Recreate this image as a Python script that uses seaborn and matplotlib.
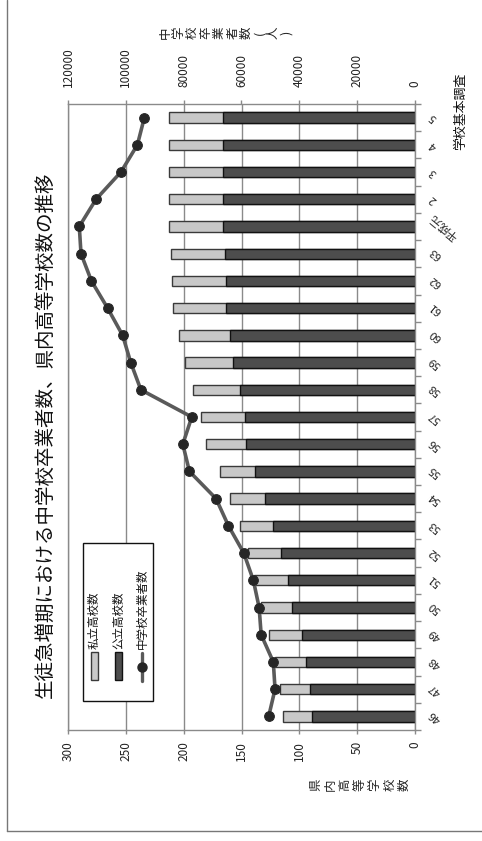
import numpy as np
import pandas as pd
import matplotlib
matplotlib.use("Agg")
import matplotlib.pyplot as plt
import seaborn as sns
from matplotlib.lines import Line2D
from matplotlib.patches import Rectangle

# 年度（昭和46年〜平成5年）
years = ["46", "47", "48", "49", "50", "51", "52", "53", "54", "55", "56", "57",
         "58", "59", "60", "61", "62", "63", "平成元", "2", "3", "4", "5"]
# 公立高校数
public = [89, 91, 94, 98, 106, 110, 116, 123, 130, 138, 146, 147,
          151, 157, 160, 163, 163, 164, 166, 166, 166, 166, 166]
# 私立高校数
private = [25, 26, 27, 28, 27, 29, 28, 28, 30, 31, 35, 38,
           41, 42, 44, 46, 47, 47, 47, 47, 47, 47, 47]
# 中学校卒業者数（人）
graduates = [50600, 48400, 49000, 53200, 53900, 55900, 59200, 64500, 68800, 78000,
             80300, 77200, 94800, 98300, 101100, 106300, 111900, 115500, 116100,
             110300, 101700, 96000, 93600]

school_ticks = [0, 50, 100, 150, 200, 250, 300]
grad_ticks = [0, 20000, 40000, 60000, 80000, 100000, 120000]

title = "生徒急増期における中学校卒業者数、県内高等学校数の推移"
left_title = "県内高等学校数"
right_title = "中学校卒業者数(人)"
source = "学校基本調査"
legend_labels = ["私立高校数", "公立高校数", "中学校卒業者数"]

sns.set_theme(style="white")
plt.rcParams["font.family"] = ["Noto Sans CJK JP", "DejaVu Sans"]

W, H = 482, 841
fig = plt.figure(figsize=(W / 100, H / 100), dpi=100)
fig.patch.set_facecolor("white")


def fx(px):
    return px / W


def fy(py):
    return 1 - py / H


GRID = "#8a8a8a"
LIGHT = "#c8c8c8"
DARK = "#4d4d4d"
LINE = "#5a5a5a"
DOT = "#262626"

ax = fig.add_axes([fx(68), fy(730), fx(415) - fx(68), fy(104) - fy(730)])
pos = np.arange(len(years))
df = pd.DataFrame({
    "pos": pos,
    "total": np.add(public, private),
    "public": public,
    "graduates": graduates,
})

# stacked bars: total (private on top) underneath, public over it
sns.barplot(data=df, x="total", y="pos", orient="h", native_scale=True,
            width=0.38, color=LIGHT, edgecolor="#3a3a3a", linewidth=1,
            saturation=1, errorbar=None, ax=ax)
sns.barplot(data=df, x="public", y="pos", orient="h", native_scale=True,
            width=0.38, color=DARK, edgecolor="#111111", linewidth=1,
            saturation=1, errorbar=None, ax=ax)

ax.set_xlim(300, 0)
ax.set_ylim(-0.5, len(years) - 0.5)
ax.set_xlabel("")
ax.set_ylabel("")
ax.set_xticks(school_ticks)
ax.set_xticklabels([str(t) for t in school_ticks], rotation=90)
ax.grid(axis="x", color=GRID, lw=1)
ax.grid(axis="y", visible=False)
ax.set_axisbelow(True)
ax.tick_params(axis="x", which="major", bottom=True, length=3, width=1,
               color=GRID, direction="out", pad=5, labelsize=8.5,
               labelcolor="#222222")

ax.yaxis.tick_right()
ax.set_yticks(pos)
ax.set_yticklabels(years)
ax.set_yticks(np.arange(-0.5, len(years)), minor=True)
ax.tick_params(axis="y", which="major", length=0, pad=9, labelsize=8,
               labelcolor="#222222")
ax.tick_params(axis="y", which="minor", right=True, left=False, length=4,
               width=1, color=GRID, direction="out")
for lab in ax.get_yticklabels():
    lab.set_rotation(140)
    lab.set_va("center")
    lab.set_ha("left")

for side in ["left", "right", "top", "bottom"]:
    ax.spines[side].set_color(GRID)
    ax.spines[side].set_linewidth(1)

# graduates line on the secondary scale
ax2 = ax.twiny()
sns.lineplot(data=df, x="graduates", y="pos", orient="y", ax=ax2,
             color=LINE, lw=2.6, marker="o", markersize=7,
             markerfacecolor=DOT, markeredgecolor=DOT)
ax2.set_xlim(120000, 0)
ax.set_ylim(-0.5, len(years) - 0.5)
ax2.set_xlabel("")
ax2.set_ylabel("")
ax2.set_xticks(grad_ticks)
ax2.set_xticklabels([str(t) for t in grad_ticks], rotation=90)
ax2.tick_params(axis="x", top=True, length=3, width=1, color=GRID,
                direction="out", pad=9, labelsize=8.5, labelcolor="#222222")
for lab in ax2.get_xticklabels():
    lab.set_va("bottom")
for side in ["left", "right", "top", "bottom"]:
    ax2.spines[side].set_visible(False)


def stacked_text(xc, y, text, size, spacing):
    """Vertical (one glyph per line) axis title laid on its side."""
    fig.text(fx(xc), fy(y), "\n".join(text), rotation=90, fontsize=size,
             ha="center", va="center", multialignment="center",
             linespacing=spacing, color="#222222")


stacked_text(226, 33, right_title, 9, 1.05)
stacked_text(360, 785, left_title, 9, 1.18)

fig.text(fx(45), fy(435), title, rotation=90, fontsize=14,
         ha="center", va="center", color="#111111")
fig.text(fx(461), fy(111), source, rotation=90, fontsize=9.3,
         ha="center", va="center", color="#111111")

# legend box
fig.add_artist(Rectangle((fx(83), fy(701)), fx(153) - fx(83), fy(543) - fy(701),
                         transform=fig.transFigure, facecolor="white",
                         edgecolor="#111111", lw=1, zorder=5))
fig.add_artist(Rectangle((fx(91), fy(680)), fx(7), fy(652) - fy(680),
                         transform=fig.transFigure, facecolor=LIGHT,
                         edgecolor="#3a3a3a", lw=1, zorder=6))
fig.add_artist(Rectangle((fx(115), fy(680)), fx(7), fy(652) - fy(680),
                         transform=fig.transFigure, facecolor=DARK,
                         edgecolor="#111111", lw=1, zorder=6))
fig.add_artist(Line2D([fx(142), fx(142)], [fy(681), fy(653)],
                      transform=fig.transFigure, color=LINE, lw=2.4, zorder=6))
fig.add_artist(Line2D([fx(142)], [fy(667)], transform=fig.transFigure,
                      marker="o", markersize=6.5, color=DOT, zorder=7))
for xc, lab in zip([94.5, 118.5, 142.5], legend_labels):
    fig.text(fx(xc), fy(649), lab, rotation=90, fontsize=8.3,
             ha="center", va="bottom", color="#111111", zorder=7)

# outer frame
fig.add_artist(Line2D([fx(7), fx(7)], [fy(831), 1.0], transform=fig.transFigure,
                      color="#777777", lw=1))
fig.add_artist(Line2D([fx(7), 1.0], [fy(831), fy(831)], transform=fig.transFigure,
                      color="#777777", lw=1))

fig.savefig("out.png", dpi=100, facecolor="white")
